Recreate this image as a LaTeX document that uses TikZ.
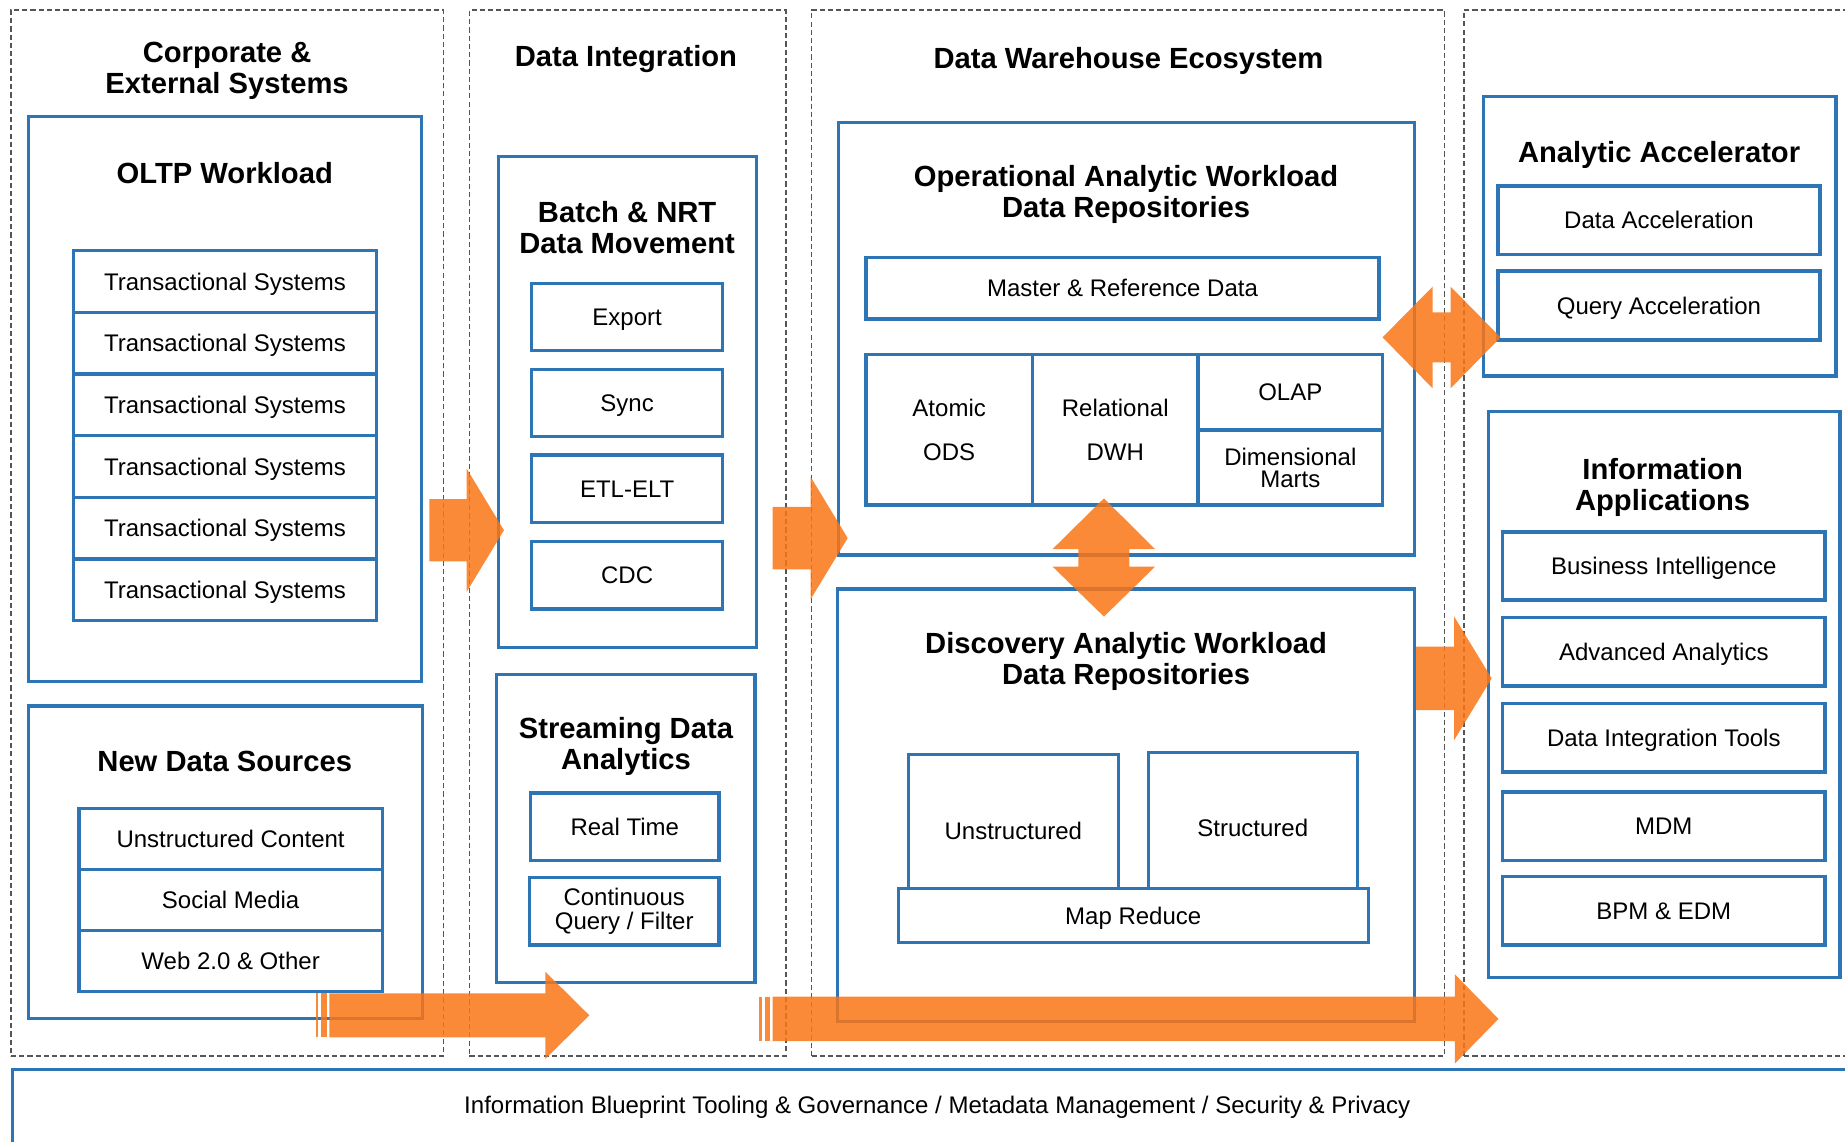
\documentclass[tikz,border=0pt]{standalone}
\usepackage{fontspec}
\setmainfont{Liberation Sans}
\definecolor{bblue}{RGB}{46,117,182}
\definecolor{dgray}{RGB}{85,85,85}
\definecolor{aorange}{RGB}{250,118,22}

\tikzset{
  bx/.style={draw=bblue, line width=1.4pt, inner sep=0pt,
    font=\fontsize{10.2}{10.2}\selectfont, text height=7.3pt, text depth=0pt, align=center},
  col/.style={draw=dgray, line width=0.6pt, dash pattern=on 2.2pt off 1.3pt},
  ttl/.style={font=\bfseries\fontsize{12.4}{13.2}\selectfont, align=center, inner sep=0pt},
  ttlone/.style={ttl, text height=8.9pt, text depth=0pt},
  lbl/.style={font=\fontsize{10.2}{10.2}\selectfont, inner sep=0pt, text height=7.3pt, text depth=0pt},
  arr/.style={fill=aorange, fill opacity=0.85},
  multi/.style={text height={}, text depth={}},
}

% rectangle node from its corners: [options]{name}{x1}{y1}{x2}{y2}{text}
\newcommand\bxat[7][]{%
  \node[bx,#1,minimum width={(#5-#3)*0.5pt},minimum height={(#6-#4)*0.5pt}]
    (#2) at ({(#3+#5)/2},{(#4+#6)/2}) {#7};}

% horizontal block arrow: {x start}{x tip}{y}{shaft half height}{head half height}{head length}
\newcommand\blockarrow[6]{%
  \fill[arr] (#1,{#3-#4}) -- ({#2-#6},{#3-#4}) -- ({#2-#6},{#3-#5}) -- (#2,#3)
    -- ({#2-#6},{#3+#5}) -- ({#2-#6},{#3+#4}) -- (#1,{#3+#4}) -- cycle;}

\begin{document}
\begin{tikzpicture}[x=0.5pt,y=-0.5pt]
\clip (0,0) rectangle (1568,970);
\fill[white] (0,0) rectangle (1568,970);

% dashed columns
\bxat[col]{colA}{9.3}{8.5}{376.8}{897.5}{}
\bxat[col]{colB}{398.9}{8.5}{668}{897.5}{}
\bxat[col]{colC}{689.8}{8.5}{1227.4}{897.5}{}
\bxat[col]{colD}{1244.3}{8.5}{1600}{897.5}{}

% column titles
\node[ttl] (tA) at (193,60) {Corporate \&\\External Systems};
\node[ttlone] (tB) at (532,48) {Data Integration};
\node[ttlone] (tC) at (959,49) {Data Warehouse Ecosystem};

% ---- Corporate & External Systems
\bxat{oltp}{24.1}{99.2}{358.4}{579}{}
\node[ttlone] (toltp) at (191,146.8) {OLTP Workload};
\bxat{ts1}{62.3}{213}{320.1}{265.4}{Transactional Systems}
\bxat{ts2}{62.3}{265.4}{320.1}{317.8}{Transactional Systems}
\bxat{ts3}{62.3}{317.8}{320.1}{370.2}{Transactional Systems}
\bxat{ts4}{62.3}{370.2}{320.1}{422.6}{Transactional Systems}
\bxat{ts5}{62.3}{422.6}{320.1}{475}{Transactional Systems}
\bxat{ts6}{62.3}{475}{320.1}{527.4}{Transactional Systems}

\bxat{nds}{24.1}{600}{358.9}{865.7}{}
\node[ttlone] (tnds) at (191,647) {New Data Sources};
\bxat{uc}{67.1}{687}{324.9}{739}{Unstructured Content}
\bxat{sm}{67.1}{739}{324.9}{791}{Social Media}
\bxat{web}{67.1}{791}{324.9}{842.8}{Web 2.0 \& Other}

% ---- Data Integration
\bxat{batch}{423.5}{133}{643}{550}{}
\node[ttl] (tbatch) at (533,193) {Batch \& NRT\\Data Movement};
\bxat{exp}{451.8}{241}{614.2}{298}{Export}
\bxat{sync}{451.8}{314}{614.2}{371}{Sync}
\bxat{etl}{451.8}{386.7}{614.2}{444.2}{ETL-ELT}
\bxat{cdc}{451.8}{460.3}{614.2}{517.6}{CDC}

\bxat{stream}{422}{573}{641.6}{835}{}
\node[ttl] (tstream) at (532,634) {Streaming Data\\Analytics};
\bxat{rt}{451}{674}{611}{731}{Real Time}
\bxat[multi]{cq}{450}{746}{611}{803}{Continuous\\Query / Filter}

% ---- Data Warehouse Ecosystem
\bxat{oper}{712.4}{104}{1202}{471.7}{}
\node[ttl] (toper) at (957,165.5) {Operational Analytic Workload\\Data Repositories};
\bxat{mrd}{736}{219}{1172}{271}{Master \& Reference Data}
\bxat[multi,font=\fontsize{10.2}{18.85}\selectfont]{ods}{735.9}{301}{877.4}{429.2}{Atomic\\ODS}
\bxat[multi,font=\fontsize{10.2}{18.85}\selectfont]{dwh}{877.4}{301}{1018.2}{429.2}{Relational\\DWH}
\bxat{olap}{1018.2}{301}{1175}{365.4}{OLAP}
\bxat[multi,font=\fontsize{10.2}{9.3}\selectfont]{dim}{1018.2}{365.4}{1175}{429.2}{Dimensional\\Marts}

\bxat{disc}{711.5}{500.6}{1202}{868.3}{}
\node[ttl] (tdisc) at (957,562.5) {Discovery Analytic Workload\\Data Repositories};
\bxat{unst}{772}{641}{950.4}{771}{Unstructured}
\bxat{strc}{975.9}{639.4}{1153.5}{768.6}{Structured}
\bxat[fill=white]{mapr}{763.4}{755}{1162.8}{801}{Map Reduce}

% ---- right column
\bxat{accel}{1261}{82.2}{1560.3}{319.5}{}
\node[ttlone] (taccel) at (1410,129) {Analytic Accelerator};
\bxat{da}{1273}{158}{1546.7}{216}{Data Acceleration}
\bxat{qa}{1273}{230.3}{1546.7}{289}{Query Acceleration}

\bxat{apps}{1265}{350}{1563.7}{831}{}
\node[ttl] (tapps) at (1413,414) {Information\\Applications};
\bxat{bi}{1277}{452}{1551}{510}{Business Intelligence}
\bxat{aa}{1277}{525}{1551}{583}{Advanced Analytics}
\bxat{dit}{1277}{598}{1551}{656}{Data Integration Tools}
\bxat{mdm}{1277}{673}{1551}{731}{MDM}
\bxat{bpm}{1277}{745}{1551}{803}{BPM \& EDM}

% ---- governance band
\bxat{gov}{10.5}{908.8}{1600}{1010}{}
\node[lbl] (tgov) at (796.5,939) {Information Blueprint Tooling \& Governance / Metadata Management / Security \& Privacy};

% ---- flow arrows
\blockarrow{364.9}{428.3}{450.6}{26.5}{52.4}{31.7}
\blockarrow{656.6}{720.4}{457.3}{26.6}{51.9}{31.4}
\blockarrow{1203.4}{1267.7}{576.5}{26.9}{52.7}{32}
% lower arrows with their striped tails
\fill[arr] (268.3,844.2) rectangle (270.5,881.5);
\fill[arr] (272.5,844.2) rectangle (277.6,881.5);
\blockarrow{279.9}{500.9}{862.9}{18.65}{37.1}{37.5}
\fill[arr] (645.3,847) rectangle (647.6,884.7);
\fill[arr] (649.8,847) rectangle (654.4,884.7);
\blockarrow{656.6}{1273.5}{865.9}{18.85}{37.85}{37}

% two-way arrows
\fill[arr] (1175,286.7) -- (1217.5,243.6) -- (1217.5,265.4) -- (1232.8,265.4)
  -- (1232.8,243.6) -- (1275.3,286.7) -- (1232.8,330) -- (1232.8,308)
  -- (1217.5,308) -- (1217.5,330) -- cycle;
\fill[arr] (938.2,423.5) -- (981.6,466.6) -- (959.8,466.6) -- (959.8,481.6)
  -- (981.6,481.6) -- (938.2,524) -- (894.6,481.6) -- (916.4,481.6)
  -- (916.4,466.6) -- (894.6,466.6) -- cycle;
\end{tikzpicture}
\end{document}
